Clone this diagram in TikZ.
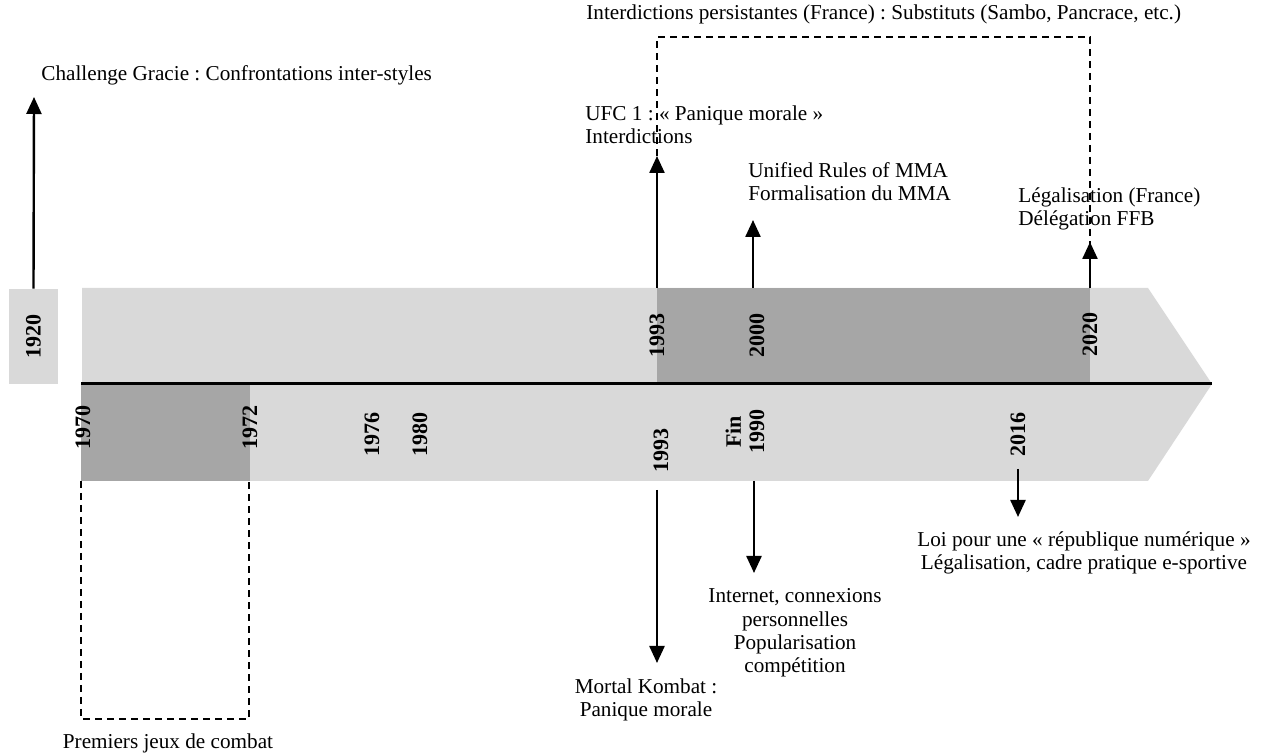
\documentclass[tikz,border=0pt]{standalone}
\usepackage{fontspec}
\setmainfont{Liberation Serif}
\usetikzlibrary{arrows.meta}
\definecolor{lightg}{HTML}{D9D9D9}
\definecolor{darkg}{HTML}{A6A6A6}
\begin{document}
\frenchspacing
\begin{tikzpicture}[x=0.5pt,y=-0.5pt,
  txt/.style={inner sep=0pt, font=\fontsize{10.6}{11.6}\selectfont},
  yr/.style={inner sep=0pt, rotate=90, font=\fontsize{11}{11.6}\selectfont\bfseries, align=center},
  arr/.style={line width=1.2pt, -{Triangle[width=7.5pt,length=8.5pt]}},
  dsh/.style={line width=1pt, dash pattern=on 3.5pt off 2.5pt},
  axisline/.style={line width=1.5pt}]
\useasboundingbox (0,0) rectangle (1266,754);
% band
\fill[lightg] (82,288) -- (1148,288) -- (1212,384) -- (1148,481) -- (82,481) -- cycle;
\fill[darkg] (81,385) rectangle (250,481);
\fill[darkg] (657,288) rectangle (1090,384);
\coordinate (axL) at (81,384);
\coordinate (axR) at (1212,384);
\draw[axisline] (axL) -- (axR);
% 1920 box
\node[yr, fill=lightg, minimum width=47.5pt, minimum height=24.5pt] (b1920) at (33.5,336.5) {1920};
% years
\node[yr] (y1970) at (83,428) {1970};
\node[yr] (y1972) at (250,428) {1972};
\node[yr] (y1976) at (372,435) {1976};
\node[yr] (y1980) at (420,435) {1980};
\node[yr] (y1993b) at (661,451) {1993};
\node[yr] (yfin) at (745,432) {Fin\\1990};
\node[yr] (y2016) at (1018,435) {2016};
\node[yr] (y1993t) at (657,336) {1993};
\node[yr] (y2000) at (757,336) {2000};
\node[yr] (y2020) at (1090,335) {2020};
% texts
\node[txt, anchor=west] (tgracie) at (41,75) {Challenge Gracie : Confrontations inter-styles};
\node[txt, anchor=west] (tinterd) at (586,14) {Interdictions persistantes (France) : Substituts (Sambo, Pancrace, etc.)};
\node[txt, anchor=west, align=left] (tufc) at (585,125) {UFC 1 : «~Panique morale~»\\Interdictions};
\node[txt, anchor=west, align=left] (tunif) at (748,182) {Unified Rules of MMA\\Formalisation du MMA};
\node[txt, anchor=west, align=left] (tlegal) at (1018,209) {Légalisation (France)\\Délégation FFB};
\node[txt, align=center] (tinternet) at (795,633) {Internet, connexions\\personnelles\\Popularisation\\compétition};
\node[txt, align=center] (tloi) at (1084,553) {Loi pour une «~république numérique~»\\Légalisation, cadre pratique e-sportive};
\node[txt, align=center] (tmortal) at (646,700) {Mortal Kombat :\\Panique morale};
\node[txt] (tpremiers) at (168,743) {Premiers jeux de combat};
% arrow coordinates
\coordinate (aGr) at (34,97);
\coordinate (sUfc) at (657,288);
\coordinate (aUfc) at (657,156);
\coordinate (s2000) at (753,288);
\coordinate (a2000) at (753,220);
\coordinate (s2020) at (1090,288);
\coordinate (a2020) at (1090,242);
\coordinate (sMk) at (657,490);
\coordinate (aMk) at (657,663);
\coordinate (sFin) at (754,481);
\coordinate (aFin) at (754,573);
\coordinate (s2016) at (1018,469);
\coordinate (a2016) at (1018,517);
\draw[arr] (b1920.east) -- (aGr);
\draw[arr] (sUfc) -- (aUfc);
\draw[arr] (s2000) -- (a2000);
\draw[arr] (s2020) -- (a2020);
\draw[arr] (sMk) -- (aMk);
\draw[arr] (sFin) -- (aFin);
\draw[arr] (s2016) -- (a2016);
% dashed brackets
\coordinate (d1a) at (657,288);
\coordinate (d1b) at (657,37);
\coordinate (d1c) at (1090,37);
\coordinate (d1d) at (1090,288);
\draw[dsh] (d1a) -- (d1b) -- (d1c) -- (d1d);
\coordinate (d2a) at (81,481);
\coordinate (d2b) at (81,719);
\coordinate (d2c) at (249,719);
\coordinate (d2d) at (249,481);
\draw[dsh] (d2a) -- (d2b) -- (d2c) -- (d2d);
\end{tikzpicture}
\end{document}
